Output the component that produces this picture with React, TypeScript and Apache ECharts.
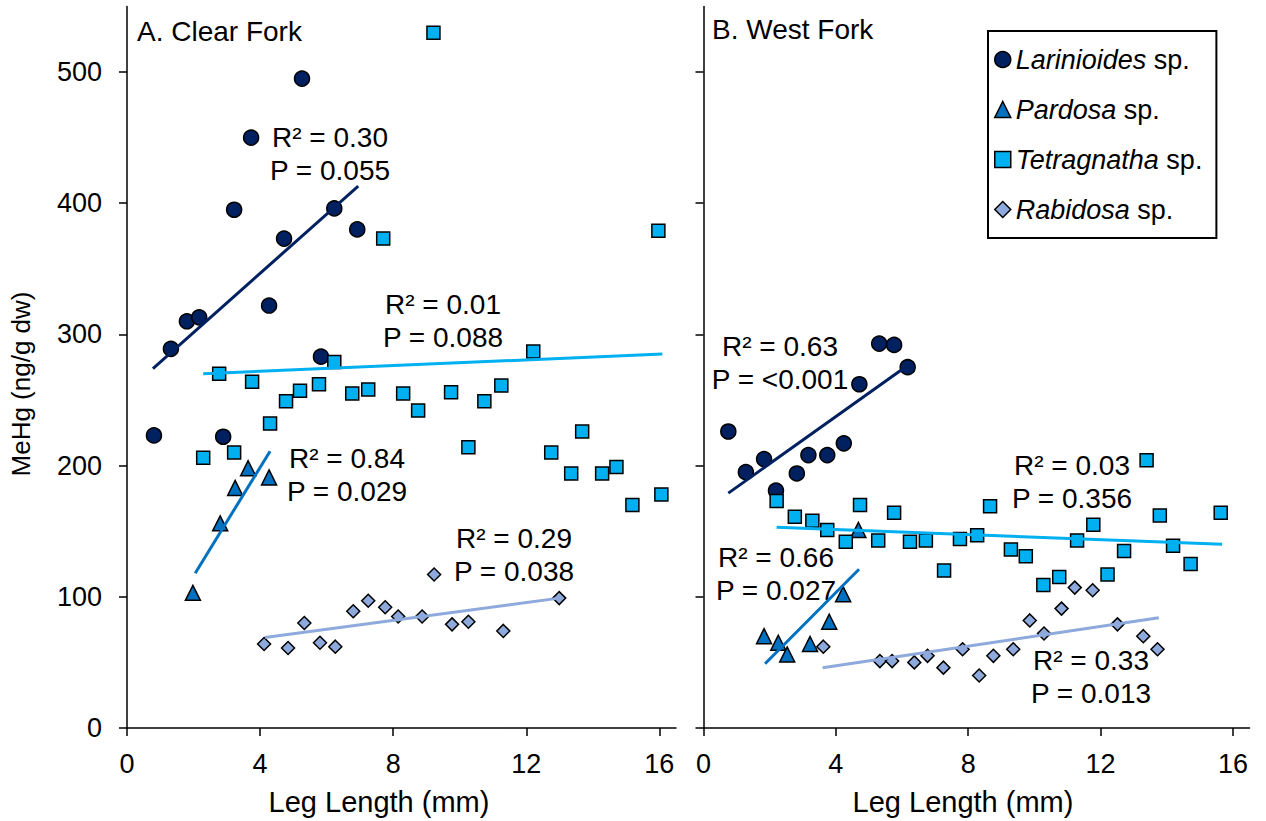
import React, { useEffect, useRef } from "react";
import * as echarts from "echarts";

const FONT = "'Liberation Sans', Arial, Helvetica, sans-serif";

const xTicks = [0, 4, 8, 12, 16];
const yTicks = [0, 100, 200, 300, 400, 500];
const speciesNames = ["Larinioides", "Pardosa", "Tetragnatha", "Rabidosa"];

// A. Clear Fork  [leg length mm, MeHg ng/g dw]
const cfLarinioides = [[0.81, 223], [1.32, 289], [1.80, 310], [2.17, 313], [2.89, 222], [3.22, 395], [3.73, 450], [4.27, 322], [4.72, 373], [5.26, 495], [5.83, 283], [6.23, 396], [6.92, 380]];
const cfPardosa = [[1.98, 103], [2.80, 156], [3.25, 183], [3.64, 198], [4.27, 191]];
const cfTetragnatha = [[2.29, 206], [2.77, 270], [3.22, 210], [3.76, 264], [4.30, 232], [4.78, 249], [5.20, 257], [5.77, 262], [6.23, 279], [6.77, 255], [7.25, 258], [7.70, 373], [8.30, 255], [8.75, 242], [9.21, 530], [9.74, 256], [10.26, 214], [10.74, 249], [11.25, 261], [12.21, 287], [12.75, 210], [13.35, 194], [13.68, 226], [14.28, 194], [14.71, 199], [15.19, 170], [15.97, 379], [16.06, 178]];
const cfRabidosa = [[4.12, 64], [4.84, 61], [5.33, 80], [5.80, 65], [6.26, 62], [6.80, 89], [7.25, 97], [7.76, 92], [8.15, 85], [8.87, 85], [9.23, 117], [9.77, 79], [10.26, 81], [11.31, 74], [12.99, 99]];
const cfLarinioidesTrend = [[0.78, 274], [6.95, 413]];
const cfPardosaTrend = [[2.05, 118], [4.30, 211]];
const cfTetragnathaTrend = [[2.29, 270], [16.09, 285]];
const cfRabidosaTrend = [[4.15, 69], [12.99, 99]];

// B. West Fork
const wfLarinioides = [[0.75, 226], [1.28, 195], [1.83, 205], [2.19, 181], [2.82, 194], [3.17, 208], [3.74, 208], [4.24, 217], [4.71, 262], [5.31, 293], [5.76, 292], [6.17, 275]];
const wfPardosa = [[1.83, 70], [2.26, 65], [2.53, 56], [3.22, 64], [3.80, 81], [4.22, 102], [4.68, 151]];
const wfTetragnatha = [[2.21, 173], [2.76, 161], [3.29, 158], [3.74, 151], [4.30, 142], [4.73, 170], [5.28, 143], [5.76, 164], [6.24, 142], [6.72, 143], [7.27, 120], [7.75, 144], [8.27, 147], [8.66, 169], [9.29, 136], [9.74, 131], [10.27, 109], [10.75, 115], [11.29, 143], [11.78, 155], [12.21, 117], [12.71, 135], [13.39, 204], [13.79, 162], [14.19, 139], [14.72, 125], [15.63, 164]];
const wfRabidosa = [[3.62, 62], [5.33, 51], [5.70, 51], [6.37, 50], [6.77, 55], [7.25, 46], [7.83, 60], [8.33, 40], [8.76, 55], [9.36, 60], [9.86, 82], [10.29, 72], [10.82, 91], [11.22, 107], [11.76, 105], [12.51, 79], [13.29, 70], [13.72, 60]];
const wfLarinioidesTrend = [[0.75, 179], [6.04, 274]];
const wfPardosaTrend = [[1.86, 49], [4.70, 121]];
const wfTetragnathaTrend = [[2.21, 153], [15.67, 140]];
const wfRabidosaTrend = [[3.60, 46], [13.76, 84]];

const cfStats = [["R² = 0.30", "P = 0.055"], ["R² = 0.84", "P = 0.029"], ["R² = 0.01", "P = 0.088"], ["R² = 0.29", "P = 0.038"]];
const wfStats = [["R² = 0.63", "P = <0.001"], ["R² = 0.66", "P = 0.027"], ["R² = 0.03", "P = 0.356"], ["R² = 0.33", "P = 0.013"]];

const COLORS = ["#002060", "#0070C0", "#00B0F0", "#8EA9DB"];
const SYMBOLS = ["circle", "triangle", "rect", "diamond"];
const SIZES = [15, 15, 13, 13];

// label anchor positions (pixels): [cx, cy of first line]
const cfStatPos = [[330, 137], [347, 458], [443, 304], [514, 538]];
const wfStatPos = [[780, 346], [776, 557], [1072, 465], [1091, 660]];

export default function App() {
  const ref = useRef<HTMLDivElement>(null);
  useEffect(() => {
    if (!ref.current) return;
    const chart = echarts.init(ref.current, null, { renderer: "svg" });

    const cfPts = [cfLarinioides, cfPardosa, cfTetragnatha, cfRabidosa];
    const wfPts = [wfLarinioides, wfPardosa, wfTetragnatha, wfRabidosa];
    const cfTr = [cfLarinioidesTrend, cfPardosaTrend, cfTetragnathaTrend, cfRabidosaTrend];
    const wfTr = [wfLarinioidesTrend, wfPardosaTrend, wfTetragnathaTrend, wfRabidosaTrend];

    const series: any[] = [];
    [cfPts, wfPts].forEach((panel, p) => {
      panel.forEach((d, i) => {
        series.push({
          type: "scatter",
          name: speciesNames[i],
          xAxisIndex: p,
          yAxisIndex: p,
          data: d,
          symbol: SYMBOLS[i],
          symbolSize: SIZES[i],
          itemStyle: { color: COLORS[i], borderColor: "#000", borderWidth: 1.5, opacity: 1 },
          z: 2,
        });
      });
    });
    [cfTr, wfTr].forEach((panel, p) => {
      panel.forEach((d, i) => {
        series.push({
          type: "line",
          name: speciesNames[i] + " trend",
          xAxisIndex: p,
          yAxisIndex: p,
          data: d,
          symbol: "none",
          showSymbol: false,
          lineStyle: { color: COLORS[i], width: 3 },
          silent: true,
          z: 3,
        });
      });
    });

    const xAxisBase = (gi: number) => ({
      gridIndex: gi,
      type: "value",
      min: 0,
      max: 16.5,
      axisLine: { show: true, onZero: false, lineStyle: { color: "#000", width: 1.5 } },
      axisTick: { show: true, length: 8, customValues: xTicks, lineStyle: { color: "#000", width: 1.5 } },
      axisLabel: { customValues: xTicks, fontSize: 27, fontFamily: FONT, color: "#000", margin: 22 },
      splitLine: { show: false },
    });
    const yAxisBase = (gi: number, showLabels: boolean) => ({
      gridIndex: gi,
      type: "value",
      min: 0,
      max: 550,
      axisLine: { show: true, onZero: false, lineStyle: { color: "#000", width: 1.5 } },
      axisTick: { show: true, length: 8, customValues: yTicks, lineStyle: { color: "#000", width: 1.5 } },
      axisLabel: { show: showLabels, customValues: yTicks, fontSize: 27, fontFamily: FONT, color: "#000", margin: 25 },
      splitLine: { show: false },
    });

    const txt = (text: string, x: number, y: number, extra: any = {}) => ({
      type: "text",
      x,
      y,
      style: {
        text,
        fill: "#000",
        font: `${extra.size || 28}px ${FONT}`,
        textAlign: extra.align || "center",
        textVerticalAlign: "middle",
      },
      rotation: extra.rotation || 0,
      silent: true,
    });

    const graphics: any[] = [];
    graphics.push(txt("A. Clear Fork", 137, 31, { align: "left" }));
    graphics.push(txt("B. West Fork", 712, 29, { align: "left" }));
    graphics.push(txt("MeHg (ng/g dw)", 21, 384, { rotation: Math.PI / 2, size: 26 }));
    graphics.push(txt("Leg Length (mm)", 379, 802, { size: 29 }));
    graphics.push(txt("Leg Length (mm)", 963, 802, { size: 29 }));
    cfStats.forEach((s, i) => {
      graphics.push(txt(s[0], cfStatPos[i][0], cfStatPos[i][1]));
      graphics.push(txt(s[1], cfStatPos[i][0], cfStatPos[i][1] + 33));
    });
    wfStats.forEach((s, i) => {
      graphics.push(txt(s[0], wfStatPos[i][0], wfStatPos[i][1]));
      graphics.push(txt(s[1], wfStatPos[i][0], wfStatPos[i][1] + 33));
    });

    chart.setOption({
      animation: false,
      backgroundColor: "#fff",
      textStyle: { fontFamily: FONT },
      grid: [
        { left: 127, top: 6.4, width: 549, height: 721.6 },
        { left: 703.5, top: 6.4, width: 546, height: 721.6 },
      ],
      xAxis: [xAxisBase(0), xAxisBase(1)],
      yAxis: [yAxisBase(0, true), yAxisBase(1, false)],
      legend: {
        data: speciesNames.map((n, i) => ({
          name: n,
          icon: SYMBOLS[i],
          itemStyle: { color: COLORS[i], borderColor: "#000", borderWidth: 1.5 },
        })),
        orient: "vertical",
        left: 988,
        top: 31,
        itemWidth: 16,
        itemHeight: 16,
        itemGap: 23,
        padding: [15, 14, 15, 6],
        borderColor: "#000",
        borderWidth: 2,
        backgroundColor: "#fff",
        formatter: (name: string) => `{i|${name}} sp.`,
        textStyle: {
          fontFamily: FONT,
          fontSize: 27,
          color: "#000",
          rich: { i: { fontStyle: "italic", fontFamily: FONT, fontSize: 27, color: "#000" } },
        },
        selectedMode: false,
      },
      graphic: graphics,
      series,
    });

    return () => chart.dispose();
  }, []);

  return (
    <div
      ref={ref}
      style={{ position: "absolute", left: 0, top: 0, width: 1266, height: 821, background: "#fff" }}
    />
  );
}
